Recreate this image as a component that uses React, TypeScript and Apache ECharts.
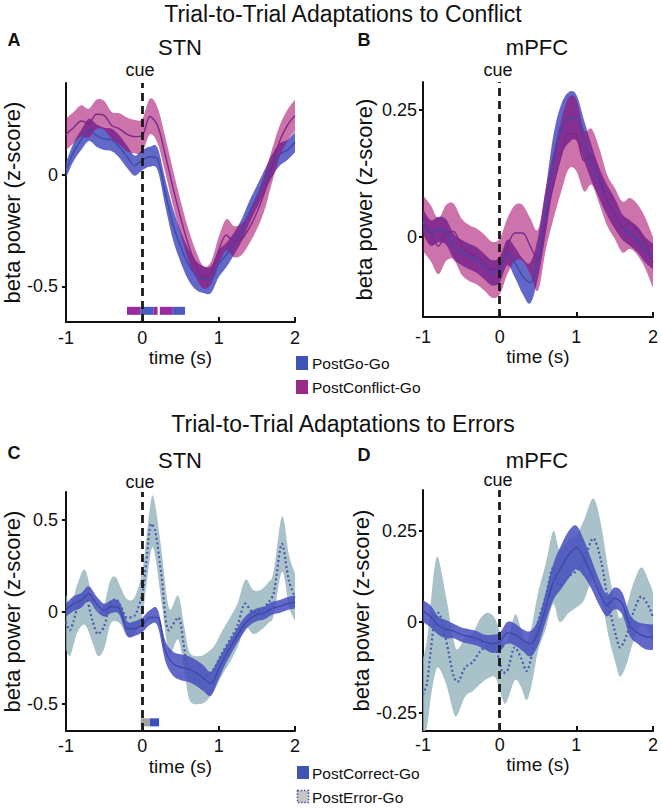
import React, { useEffect, useRef } from "react";
import * as echarts from "echarts";

// ---------- DATA ----------
const TIME = [-1, -0.9, -0.8, -0.7, -0.6, -0.5, -0.4, -0.3, -0.2, -0.1, 0, 0.1, 0.2, 0.3, 0.4, 0.5, 0.6, 0.7, 0.8, 0.9, 1, 1.1, 1.2, 1.3, 1.4, 1.5, 1.6, 1.7, 1.8, 1.9, 2];

// Panel A – STN, conflict
const A_GO_MEAN = [0.02, 0.1, 0.155, 0.2, 0.175, 0.16, 0.155, 0.125, 0.08, 0.04, 0.065, 0.08, 0.07, -0.08, -0.22, -0.32, -0.4, -0.45, -0.47, -0.47, -0.4, -0.36, -0.31, -0.25, -0.17, -0.1, -0.03, 0.04, 0.09, 0.11, 0.145];
const A_GO_SEM = [0.035, 0.04, 0.045, 0.05, 0.05, 0.05, 0.05, 0.05, 0.05, 0.045, 0.045, 0.045, 0.05, 0.06, 0.07, 0.07, 0.07, 0.065, 0.06, 0.06, 0.06, 0.055, 0.05, 0.05, 0.05, 0.05, 0.05, 0.05, 0.05, 0.045, 0.045];
const A_CONF_MEAN = [0.18, 0.21, 0.24, 0.23, 0.27, 0.265, 0.22, 0.205, 0.18, 0.17, 0.175, 0.26, 0.22, 0.09, -0.055, -0.19, -0.31, -0.4, -0.46, -0.44, -0.34, -0.27, -0.3, -0.29, -0.24, -0.17, -0.08, 0.04, 0.15, 0.22, 0.265];
const A_CONF_SEM = [0.07, 0.07, 0.07, 0.065, 0.065, 0.065, 0.06, 0.07, 0.075, 0.075, 0.075, 0.08, 0.08, 0.08, 0.08, 0.075, 0.07, 0.06, 0.05, 0.05, 0.06, 0.07, 0.07, 0.07, 0.07, 0.075, 0.08, 0.075, 0.07, 0.07, 0.07];

// Panel B – mPFC, conflict
const B_GO_MEAN = [0.03, 0.008, 0.015, 0.01, -0.018, -0.03, -0.038, -0.045, -0.058, -0.07, -0.064, -0.03, -0.05, -0.077, -0.09, -0.04, 0.05, 0.15, 0.21, 0.235, 0.235, 0.19, 0.145, 0.106, 0.073, 0.047, 0.02, 0.008, -0.005, -0.025, -0.038];
const B_GO_SEM = [0.025, 0.025, 0.025, 0.025, 0.025, 0.025, 0.025, 0.025, 0.025, 0.025, 0.025, 0.025, 0.03, 0.035, 0.04, 0.04, 0.045, 0.05, 0.05, 0.05, 0.045, 0.04, 0.035, 0.03, 0.03, 0.03, 0.025, 0.025, 0.025, 0.025, 0.025];
const B_CONF_MEAN = [0.027, 0.008, -0.018, 0.008, 0.011, -0.018, -0.031, -0.038, -0.05, -0.064, -0.058, -0.018, 0.008, 0.008, -0.018, -0.045, 0.034, 0.1, 0.158, 0.204, 0.2, 0.15, 0.158, 0.12, 0.073, 0.047, 0.02, 0.027, 0.014, -0.012, -0.05];
const B_CONF_SEM = [0.055, 0.055, 0.055, 0.055, 0.055, 0.055, 0.055, 0.055, 0.055, 0.055, 0.055, 0.055, 0.055, 0.055, 0.055, 0.06, 0.06, 0.065, 0.07, 0.07, 0.07, 0.06, 0.055, 0.055, 0.05, 0.05, 0.05, 0.05, 0.05, 0.05, 0.05];

// Panel C – STN, errors
const C_CORR_MEAN = [0.01, 0.045, 0.063, 0.1, 0.045, 0.01, 0.03, 0.02, -0.09, -0.09, -0.07, -0.03, -0.03, -0.21, -0.28, -0.3, -0.31, -0.33, -0.36, -0.39, -0.31, -0.23, -0.16, -0.09, -0.04, -0.015, -0.005, 0.02, 0.03, 0.045, 0.054];
const C_CORR_SEM = [0.035, 0.04, 0.04, 0.04, 0.04, 0.035, 0.035, 0.035, 0.04, 0.04, 0.04, 0.04, 0.045, 0.055, 0.065, 0.07, 0.07, 0.07, 0.07, 0.065, 0.055, 0.045, 0.04, 0.04, 0.035, 0.035, 0.035, 0.035, 0.035, 0.035, 0.035];
const C_ERR_TIME = [-1, -0.95, -0.9, -0.85, -0.75, -0.65, -0.58, -0.5, -0.42, -0.35, -0.28, -0.2, -0.1, 0, 0.05, 0.12, 0.17, 0.25, 0.35, 0.47, 0.55, 0.62, 0.75, 0.85, 0.95, 1.05, 1.15, 1.25, 1.35, 1.45, 1.55, 1.65, 1.72, 1.83, 1.92, 2];
const C_ERR_MEAN = [-0.054, -0.1, -0.05, 0.02, 0.08, -0.05, -0.12, -0.08, 0.05, 0.07, 0.03, -0.03, -0.02, 0.1, 0.26, 0.48, 0.44, 0.2, -0.1, -0.03, -0.2, -0.35, -0.37, -0.35, -0.3, -0.22, -0.15, -0.07, 0.045, 0, 0.01, 0.05, 0.1, 0.37, 0.17, 0.08];
const C_ERR_SEM = [0.15, 0.14, 0.13, 0.13, 0.15, 0.12, 0.12, 0.12, 0.12, 0.12, 0.1, 0.1, 0.1, 0.12, 0.13, 0.14, 0.14, 0.14, 0.12, 0.12, 0.12, 0.13, 0.13, 0.13, 0.12, 0.12, 0.12, 0.12, 0.13, 0.12, 0.11, 0.11, 0.12, 0.15, 0.14, 0.13];

// Panel D – mPFC, errors
const D_CORR_MEAN = [0.03, 0.015, -0.01, -0.02, -0.025, -0.035, -0.04, -0.045, -0.055, -0.06, -0.055, -0.03, -0.035, -0.05, -0.06, -0.03, 0.04, 0.11, 0.15, 0.185, 0.205, 0.175, 0.13, 0.08, 0.045, 0.065, 0.05, -0.01, -0.03, -0.04, -0.042];
const D_CORR_SEM = [0.03, 0.03, 0.025, 0.025, 0.02, 0.02, 0.02, 0.02, 0.02, 0.025, 0.025, 0.03, 0.03, 0.03, 0.035, 0.035, 0.04, 0.05, 0.06, 0.065, 0.06, 0.05, 0.04, 0.035, 0.03, 0.03, 0.03, 0.03, 0.03, 0.035, 0.035];
const D_ERR_TIME = [-1, -0.95, -0.9, -0.85, -0.8, -0.7, -0.6, -0.55, -0.45, -0.35, -0.25, -0.15, -0.05, 0.05, 0.1, 0.2, 0.28, 0.35, 0.42, 0.5, 0.6, 0.7, 0.78, 0.9, 1, 1.1, 1.22, 1.32, 1.42, 1.52, 1.57, 1.65, 1.75, 1.85, 1.95, 2];
const D_ERR_MEAN = [-0.2, -0.17, -0.08, 0, 0.025, -0.05, -0.15, -0.165, -0.125, -0.11, -0.08, -0.065, -0.075, -0.14, -0.135, -0.07, -0.1, -0.135, -0.09, 0, 0.07, 0.15, 0.1, 0.125, 0.14, 0.17, 0.23, 0.17, 0.05, -0.04, -0.07, -0.04, 0.03, 0.07, 0.04, 0.012];
const D_ERR_SEM = [0.1, 0.12, 0.13, 0.15, 0.15, 0.12, 0.1, 0.09, 0.08, 0.08, 0.09, 0.09, 0.08, 0.08, 0.08, 0.09, 0.08, 0.08, 0.08, 0.08, 0.09, 0.1, 0.1, 0.1, 0.1, 0.11, 0.11, 0.1, 0.09, 0.08, 0.08, 0.08, 0.08, 0.08, 0.07, 0.07];

// Significance windows (s)
const SIG_A_START = [-0.2, -0.02, 0.15, 0.23, 0.4];
const SIG_A_END = [-0.02, 0.15, 0.2, 0.4, 0.56];
const SIG_A_COND = ["PostConflict-Go", "PostGo-Go", "PostConflict-Go", "PostConflict-Go", "PostGo-Go"];
const SIG_C_START = [-0.02, 0.1];
const SIG_C_END = [0.1, 0.22];
const SIG_C_COND = ["PostError-Go", "PostCorrect-Go"];

const X_TICKS = [-1, 0, 1, 2];
const Y_TICKS_A = [-0.5, 0];
const Y_TICKS_B = [0, 0.25];
const Y_TICKS_C = [-0.5, 0, 0.5];
const Y_TICKS_D = [-0.25, 0, 0.25];

// ---------- STYLE ----------
const FONT = '"Liberation Sans", Arial, Helvetica, sans-serif';
const INK = "#111";
const BLUE_BAND = "rgba(70,78,190,0.85)";
const MAG_BAND = "rgba(160,0,100,0.55)";
const GREY_BAND = "rgba(147,178,186,0.8)";
const BLUE_LINE = "#3e49aa";
const MAG_LINE = "#7a2a8a";
const DOT_LINE = "#4a58b0";
const SIG_COLORS: Record<string, string> = {
  "PostGo-Go": "#4a5cc0",
  "PostConflict-Go": "#9b2a9f",
  "PostCorrect-Go": "#3a4fc0",
  "PostError-Go": "#a0a0a0",
};

const GRIDS = [
  { left: 65, top: 83, width: 230, height: 239 },
  { left: 423, top: 82, width: 230, height: 235 },
  { left: 65, top: 492, width: 230, height: 239 },
  { left: 423, top: 490, width: 230, height: 241 },
];
const Y_RANGES = [
  [-0.66, 0.41],
  [-0.157, 0.305],
  [-0.647, 0.652],
  [-0.3, 0.363],
];
const Y_TICKS = [Y_TICKS_A, Y_TICKS_B, Y_TICKS_C, Y_TICKS_D];
const Y_NAME_GAP = [36, 48, 36, 48];
const Y_LABEL_MARGIN = [8, 6, 8, 6];
const X_NAME_GAP = [24, 27, 26, 23];
const X_LABEL_MARGIN = [7, 11, 6, 5];
const SIG_LEVEL = [-0.61, 0, -0.6, 0];

// Catmull-Rom densification in pixel space (drawing only)
function spline(pts: number[][]): number[][] {
  const out: number[][] = [];
  const n = pts.length;
  for (let i = 0; i < n - 1; i++) {
    const p0 = pts[Math.max(0, i - 1)];
    const p1 = pts[i];
    const p2 = pts[i + 1];
    const p3 = pts[Math.min(n - 1, i + 2)];
    const steps = 8;
    for (let k = 0; k < steps; k++) {
      const s = k / steps;
      const s2 = s * s;
      const s3 = s2 * s;
      const f = (a: number, b: number, c: number, d: number) =>
        0.5 * (2 * b + (-a + c) * s + (2 * a - 5 * b + 4 * c - d) * s2 + (-a + 3 * b - 3 * c + d) * s3);
      out.push([f(p0[0], p1[0], p2[0], p3[0]), f(p0[1], p1[1], p2[1], p3[1])]);
    }
  }
  out.push(pts[n - 1]);
  return out;
}

function bandSeries(gi: number, t: number[], mean: number[], sem: number[], color: string) {
  return {
    type: "custom",
    xAxisIndex: gi,
    yAxisIndex: gi,
    silent: true,
    clip: true,
    encode: { x: 0, y: [1, 2] },
    data: t.map((x, i) => [x, mean[i] - sem[i], mean[i] + sem[i]]),
    renderItem: (params: any, api: any) => {
      if (params.dataIndex !== 0) return null;
      const upper = t.map((x, i) => api.coord([x, mean[i] + sem[i]]));
      const lower = t.map((x, i) => api.coord([x, mean[i] - sem[i]]));
      const pts = spline(upper).concat(spline(lower).reverse());
      return {
        type: "polygon",
        shape: { points: pts },
        style: { fill: color, stroke: "none" },
      };
    },
  };
}

function meanSeries(gi: number, t: number[], mean: number[], color: string, dotted: boolean, cue: boolean) {
  const s: any = {
    type: "line",
    xAxisIndex: gi,
    yAxisIndex: gi,
    data: t.map((x, i) => [x, mean[i]]),
    symbol: "none",
    smooth: 0.3,
    lineStyle: dotted ? { color, width: 2.2, type: [2, 2.6] } : { color, width: 1.4 },
    silent: true,
  };
  if (cue) {
    s.markLine = {
      silent: true,
      symbol: ["none", "none"],
      label: { show: false },
      lineStyle: { color: "#1a1a1a", width: 2.8, type: [8, 5] },
      data: [{ xAxis: 0 }],
    };
  }
  return s;
}

function sigSeries(gi: number, start: number[], end: number[], cond: string[]) {
  return {
    type: "custom",
    xAxisIndex: gi,
    yAxisIndex: gi,
    silent: true,
    encode: { x: [0, 1], y: 2 },
    data: start.map((s, i) => [s, end[i], SIG_LEVEL[gi]]),
    renderItem: (params: any, api: any) => {
      const a = api.coord([api.value(0), api.value(2)]);
      const b = api.coord([api.value(1), api.value(2)]);
      return {
        type: "rect",
        shape: { x: a[0], y: a[1] - 4, width: b[0] - a[0], height: 8 },
        style: { fill: SIG_COLORS[cond[params.dataIndex]] },
      };
    },
  };
}

function txt(text: string, x: number, y: number, size: number, align = "center", bold = false) {
  return {
    type: "text",
    x,
    y,
    silent: true,
    style: {
      text,
      fill: INK,
      fontSize: size,
      fontFamily: FONT,
      fontWeight: bold ? "bold" : "normal",
      textAlign: align,
      textVerticalAlign: "middle",
    },
  };
}

function buildOption() {
  const xAxis = GRIDS.map((_, gi) => ({
    type: "value",
    gridIndex: gi,
    min: -1,
    max: 2,
    interval: 1,
    name: "time (s)",
    nameLocation: "middle",
    nameGap: X_NAME_GAP[gi],
    nameTextStyle: { fontSize: 19, color: INK, fontFamily: FONT },
    axisLine: { show: true, onZero: false, lineStyle: { color: INK, width: 2 } },
    axisTick: { show: true, inside: true, length: 5, customValues: X_TICKS, lineStyle: { color: INK, width: 2 } },
    axisLabel: { fontSize: 18, color: INK, fontFamily: FONT, margin: X_LABEL_MARGIN[gi], customValues: X_TICKS },
    splitLine: { show: false },
  }));
  const yAxis = GRIDS.map((_, gi) => ({
    type: "value",
    gridIndex: gi,
    min: Y_RANGES[gi][0],
    max: Y_RANGES[gi][1],
    name: "beta power (z-score)",
    nameLocation: "middle",
    nameGap: Y_NAME_GAP[gi],
    nameTextStyle: { fontSize: 22, color: INK, fontFamily: FONT },
    axisLine: { show: true, onZero: false, lineStyle: { color: INK, width: 2 } },
    axisTick: { show: true, inside: false, length: 4, customValues: Y_TICKS[gi], lineStyle: { color: INK, width: 2 } },
    axisLabel: { fontSize: 18, color: INK, fontFamily: FONT, margin: Y_LABEL_MARGIN[gi], customValues: Y_TICKS[gi] },
    splitLine: { show: false },
  }));

  const series: any[] = [
    // A
    bandSeries(0, TIME, A_GO_MEAN, A_GO_SEM, BLUE_BAND),
    bandSeries(0, TIME, A_CONF_MEAN, A_CONF_SEM, MAG_BAND),
    meanSeries(0, TIME, A_GO_MEAN, BLUE_LINE, false, false),
    meanSeries(0, TIME, A_CONF_MEAN, MAG_LINE, false, true),
    sigSeries(0, SIG_A_START, SIG_A_END, SIG_A_COND),
    // B
    bandSeries(1, TIME, B_GO_MEAN, B_GO_SEM, BLUE_BAND),
    bandSeries(1, TIME, B_CONF_MEAN, B_CONF_SEM, MAG_BAND),
    meanSeries(1, TIME, B_GO_MEAN, BLUE_LINE, false, false),
    meanSeries(1, TIME, B_CONF_MEAN, MAG_LINE, false, true),
    // C
    bandSeries(2, C_ERR_TIME, C_ERR_MEAN, C_ERR_SEM, GREY_BAND),
    bandSeries(2, TIME, C_CORR_MEAN, C_CORR_SEM, BLUE_BAND),
    meanSeries(2, C_ERR_TIME, C_ERR_MEAN, DOT_LINE, true, false),
    meanSeries(2, TIME, C_CORR_MEAN, BLUE_LINE, false, true),
    sigSeries(2, SIG_C_START, SIG_C_END, SIG_C_COND),
    // D
    bandSeries(3, D_ERR_TIME, D_ERR_MEAN, D_ERR_SEM, GREY_BAND),
    bandSeries(3, TIME, D_CORR_MEAN, D_CORR_SEM, BLUE_BAND),
    meanSeries(3, D_ERR_TIME, D_ERR_MEAN, DOT_LINE, true, false),
    meanSeries(3, TIME, D_CORR_MEAN, BLUE_LINE, false, true),
  ];

  const graphic = [
    txt("Trial-to-Trial Adaptations to Conflict", 343, 14, 23),
    txt("Trial-to-Trial Adaptations to Errors", 343, 424, 23),
    txt("A", 14, 40, 18, "center", true),
    txt("B", 364, 40, 18, "center", true),
    txt("C", 14, 453, 18, "center", true),
    txt("D", 364, 455, 18, "center", true),
    txt("STN", 180, 47, 22),
    txt("mPFC", 537, 47, 22),
    txt("STN", 180, 460, 22),
    txt("mPFC", 537, 460, 22),
    txt("cue", 140, 70, 18),
    txt("cue", 498, 70, 18),
    txt("cue", 140, 482, 18),
    txt("cue", 498, 480, 18),
    { type: "rect", silent: true, shape: { x: 296, y: 356, width: 12, height: 14 }, style: { fill: "#3f55b5" } },
    txt("PostGo-Go", 312, 363, 15.5, "left"),
    { type: "rect", silent: true, shape: { x: 296, y: 380, width: 12, height: 14 }, style: { fill: "#9a2a85" } },
    txt("PostConflict-Go", 312, 387, 15.5, "left"),
    { type: "rect", silent: true, shape: { x: 297, y: 766, width: 12, height: 13 }, style: { fill: "#3f55b5" } },
    txt("PostCorrect-Go", 312, 773, 15.5, "left"),
    {
      type: "rect",
      silent: true,
      shape: { x: 297.5, y: 790.5, width: 11, height: 12 },
      style: { fill: "#c6c6c6", stroke: "#4a58b0", lineWidth: 1.6, lineDash: [1.6, 1.6] },
    },
    txt("PostError-Go", 312, 797, 15.5, "left"),
  ];

  return {
    animation: false,
    backgroundColor: "#ffffff",
    textStyle: { fontFamily: FONT },
    grid: GRIDS.map((g) => ({ ...g, containLabel: false })),
    xAxis,
    yAxis,
    series,
    graphic: { elements: graphic },
  };
}

export default function App() {
  const ref = useRef<HTMLDivElement>(null);
  useEffect(() => {
    const chart = echarts.init(ref.current as HTMLDivElement, undefined, { renderer: "svg" });
    chart.setOption(buildOption() as any);
    return () => chart.dispose();
  }, []);
  return (
    <div
      ref={ref}
      style={{ position: "fixed", left: 0, top: 0, width: 662, height: 810, background: "#fff" }}
    />
  );
}
